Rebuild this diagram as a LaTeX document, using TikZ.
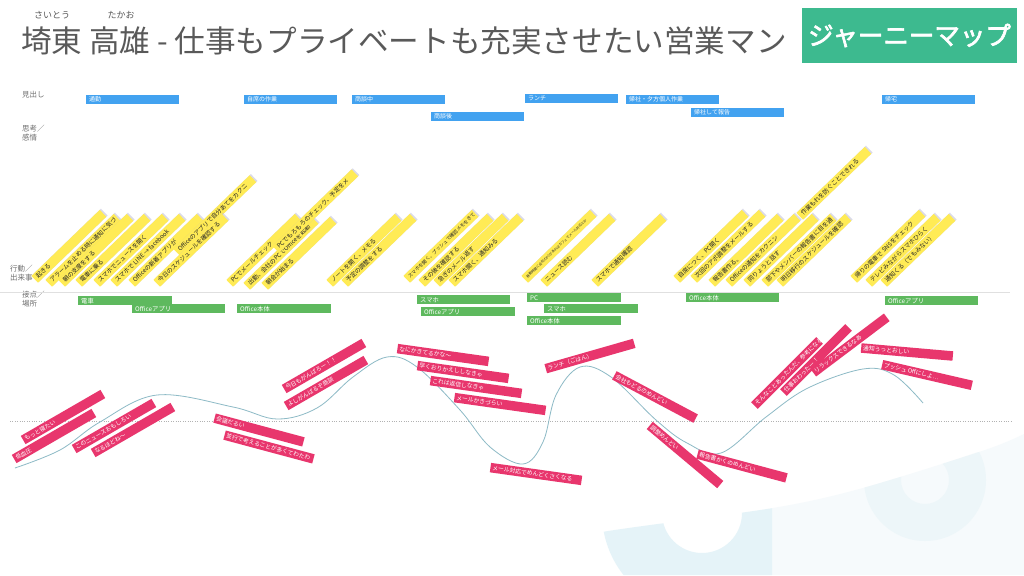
\documentclass[tikz,border=0pt]{standalone}
\usepackage{fontspec}
\setmainfont{Noto Sans CJK JP}
\newfontfamily\jpbold{Noto Sans CJK JP}[FakeBold=2.5]
\usetikzlibrary{shadows}
\definecolor{titlegray}{HTML}{595959}
\definecolor{labelgray}{HTML}{707070}
\definecolor{boxgreen}{HTML}{3DBA8F}
\definecolor{barblue}{HTML}{42A2F0}
\definecolor{bargreen}{HTML}{5EB95E}
\definecolor{stickyyellow}{HTML}{FFEB55}
\definecolor{stickypink}{HTML}{E8366D}
\definecolor{curvecol}{HTML}{8DBAC6}
\definecolor{bgfaint}{HTML}{F6FAFC}
\definecolor{ringA}{HTML}{E5F3F8}
\definecolor{ringB}{HTML}{EDF6F9}
\tikzset{
  bbar/.style={fill=barblue, text=white, anchor=north west, minimum height=9, inner xsep=3, inner ysep=0, font=\fontsize{6}{6}\selectfont},
  gbar/.style={fill=bargreen, text=white, anchor=north west, minimum height=9, inner xsep=3, inner ysep=0, font=\fontsize{6.3}{6.3}\selectfont},
  ystick/.style={fill=stickyyellow, text=black!85, rotate=44, anchor=south west, minimum height=9.5, inner xsep=3, inner ysep=0, font=\fontsize{6}{6}\selectfont,
    drop shadow={shadow xshift=1.2pt, shadow yshift=1.2pt, fill=blue!25!gray!45, opacity=.5}},
  pstick/.style={fill=stickypink, text=white, anchor=center, minimum height=9.5, inner xsep=2, inner ysep=0, font=\fontsize{5.8}{5.8}\selectfont},
  rowlabel/.style={text=labelgray, anchor=north west, inner sep=0, align=left, font=\fontsize{7.5}{9}\selectfont},
}
% bar text, left aligned: width, text
\newcommand\bt[2]{\makebox[#1pt][l]{#2}}
% yellow sticky: name, x, y (lowest corner), text
\newcommand\ys[4]{\node[ystick] (#1) at (#2,#3) {\makebox[89pt][l]{#4}};}
% long yellow sticky: name, box width, x, y, text
\newcommand\ysl[5]{\node[ystick] (#1) at (#3,#4) {\makebox[#2pt][l]{#5}};}
% pink sticky: name, x, y (centre), angle, text
\newcommand\psk[5]{\node[pstick, rotate=#4] (#1) at (#2,#3) {\makebox[88pt][l]{#5}};}
\begin{document}
\begin{tikzpicture}[x=1pt, y=-1pt]
\useasboundingbox (0,0) rectangle (1024,575);
\fill[white] (0,0) rectangle (1024,575);

% background decoration
\begin{scope}
  \clip plot[smooth] coordinates {(560,545) (602,532) (773,508) (863,488) (985,450) (1024,434)} -- (1024,575) -- (560,575) -- cycle;
  \fill[bgfaint] (772,420) rectangle (1024,575);
  \begin{scope}
    \clip (560,420) rectangle (772,575);
    \fill[ringA, even odd rule] (702,513) circle[radius=100] (702,513) circle[radius=40];
  \end{scope}
  \fill[ringB, even odd rule] (925,480) circle[radius=61] (925,480) circle[radius=24];
\end{scope}

% title
\node[anchor=west, inner sep=0, text=titlegray, font=\fontsize{30.6}{30.6}\selectfont] (title) at (21,41) {埼東 高雄 - 仕事もプライベートも充実させたい営業マン};
\node[text=titlegray, inner sep=0, font=\fontsize{9}{9}\selectfont] (ruby1) at (52,15) {さいとう};
\node[text=titlegray, inner sep=0, font=\fontsize{9}{9}\selectfont] (ruby2) at (121,15) {たかお};
\node[fill=boxgreen, text=white, minimum width=215, minimum height=55, inner sep=0, font=\jpbold\fontsize{25.5}{25.5}\selectfont] (jm) at (909.5,35.5) {ジャーニーマップ};

% row labels
\node[rowlabel] (l1) at (22,91) {見出し};
\node[rowlabel] (l2) at (22,125) {思考／\\感情};
\node[rowlabel] (l3) at (10,265) {行動／\\出来事};
\node[rowlabel] (l4) at (22,291) {接点／\\場所};

% lines
\draw[black!12, line width=0.8] (0,292) -- (1010,292);
\draw[black!30, line width=0.9, dash pattern=on 1pt off 1.4pt] (10,421) -- (1012,421);

% headline bars
\node[bbar] (h1) at (86,95) {\bt{87}{通勤}};
\node[bbar] (h2) at (244,95) {\bt{87}{自席の作業}};
\node[bbar] (h3) at (352,95) {\bt{87}{商談中}};
\node[bbar] (h4) at (431,112) {\bt{87}{商談後}};
\node[bbar] (h5) at (525,94) {\bt{87}{ランチ}};
\node[bbar] (h6) at (626,95) {\bt{87}{帰社・夕方個人作業}};
\node[bbar] (h7) at (691,108) {\bt{87}{帰社して報告}};
\node[bbar] (h8) at (882,95) {\bt{87}{帰宅}};

% touchpoint bars
\node[gbar] (g1) at (78,296) {\bt{88}{電車}};
\node[gbar] (g2) at (132,304) {\bt{87}{Officeアプリ}};
\node[gbar] (g3) at (237,304) {\bt{88}{Office本体}};
\node[gbar] (g4) at (417,295) {\bt{87}{スマホ}};
\node[gbar] (g5) at (421,307) {\bt{88}{Officeアプリ}};
\node[gbar] (g6) at (527,293) {\bt{88}{PC}};
\node[gbar] (g7) at (544,304) {\bt{88}{スマホ}};
\node[gbar] (g8) at (527,316) {\bt{88}{Office本体}};
\node[gbar] (g9) at (686,293) {\bt{87}{Office本体}};
\node[gbar] (g10) at (885,296) {\bt{87}{Officeアプリ}};

% yellow stickies
\ys{y1}{38}{283}{起きる}
\ys{y2}{52}{287}{アラームを止める時に通知に気づ}
\ys{y3}{65}{287}{朝の支度をする}
\ys{y4}{82}{287}{電車に乗る}
\ys{y5}{100}{287}{スマホでニュースを開く}
\ys{y6}{117}{287}{スマホで LINE → facebook}
\ys{y7}{135}{287}{Officeの新着アプリが}
\ysl{y8}{100}{180}{256}{Officeのアプリで自分あてをカクニ}
\ys{y9}{160}{287}{今日のスケジュールを確認する}
\ys{y10}{233}{287}{PCでメールチェック}
\ys{y11}{250}{290}{出勤、会社のPCでOfficeを起動}
\ys{y12}{268}{290}{朝会が始まる}
\ysl{y13}{104}{279}{253}{PCでもろもろのチェック、予定をメ}
\ys{y14}{333}{287}{ノートを開く、メモる}
\ys{y15}{348}{287}{予定の調整をする}
\node[ystick, font=\fontsize{4.8}{4.8}\selectfont] (y16) at (410,283) {\makebox[89pt][l]{スマホを開く、プッシュで確認メモをきて}};
\ys{y17}{425}{287}{その後を確認する}
\ys{y18}{440}{287}{急ぎのメール返す}
\ys{y19}{455}{287}{スマホ開く、通知みる}
\node[ystick, font=\fontsize{3.4}{3.4}\selectfont] (y20) at (528,283) {\makebox[89pt][l]{移動時間に会社のPCがあればカフェでメール対応とか}};
\ys{y21}{547}{287}{ニュース読む}
\ys{y22}{598}{287}{スマホで通知確認}
\ys{y23}{680}{283}{自席につく、PC開く}
\ys{y24}{697}{283}{次回のアポ調整をメールする}
\ys{y25}{715}{287}{報告書作る。}
\ys{y26}{732}{287}{Officeの通知をカクニン}
\ys{y27}{750}{287}{同りょうと話す}
\ys{y28}{768}{287}{部下やメンバーの報告書に目を通}
\ys{y29}{783}{287}{明日移行のスケジュールを確認}
\ys{y30}{803}{220}{作業もれを防ぐことできれる}
\ys{y31}{857}{283}{帰りの電車で SNSをチェック}
\ys{y32}{872}{287}{テレビみながらスマホひらく}
\ys{y33}{887}{287}{通知くる（でもみない）}

% emotion curve
\draw[curvecol, line width=0.8] plot[smooth, tension=0.6] coordinates {(15,468) (60,450) (100,422) (157,395) (233,407) (277,419) (317,408) (353,377) (387,357) (417,367) (460,410) (490,447) (523,464) (543,442) (556,395) (580,367) (611,377) (656,420) (687,443) (721,453) (766,417) (808,388) (863,369) (894,375) (923,403)};

% pink stickies
\psk{p1}{63}{417}{30}{もっと寝たい}
\psk{p2}{54}{436}{30}{低血圧}
\psk{p3}{114}{426}{30}{このニュースおもしろい}
\psk{p4}{133}{430}{30}{なるほどね～}
\psk{p5}{259}{430}{-15}{会議だるい}
\psk{p6}{269}{447}{-15}{並行で考えることが多くてわたわ}
\psk{p7}{324}{366}{30}{今日もがんばろー！！}
\psk{p8}{326}{383}{30}{よしがんばるぞ商談}
\psk{p9}{443}{355}{-8}{なにかきてるかな～}
\psk{p10}{463}{372}{-8}{早くおりかえししなきゃ}
\psk{p11}{476}{387}{-8}{これは返信しなきゃ}
\psk{p12}{500}{404}{-8}{メールかきづらい}
\psk{p13}{536}{474}{-8}{メール対応でめんどくさくなる}
\psk{p14}{590}{356}{16}{ランチ（ごはん）}
\psk{p15}{655}{397}{-28}{会社もどるのめんどい}
\psk{p16}{685}{455}{-40}{調整めんどい}
\psk{p17}{742}{466}{-15}{報告書かくのめんどい}
\psk{p18}{787}{373}{45}{そんなことあったんだ、参考になる}
\psk{p19}{816}{360}{45}{仕事おわったー！}
\psk{p20}{850}{345}{37}{リラックスできるなあ}
\psk{p21}{907}{352}{-5}{通知うっとおしい}
\psk{p22}{927}{375}{-13}{プッシュ Offにしよ…}
\end{tikzpicture}
\end{document}
